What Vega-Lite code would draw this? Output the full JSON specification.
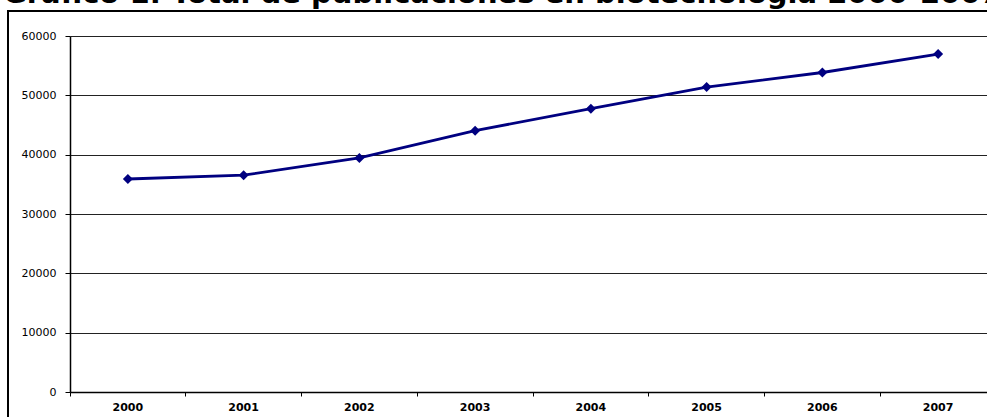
{
  "$schema": "https://vega.github.io/schema/vega-lite/v6.json",
  "autosize": "none",
  "padding": {"left": 8, "top": 11, "right": 0, "bottom": 0},
  "width": 990,
  "height": 420,
  "background": "white",
  "title": {
    "text": "Gráfico 1: Total de publicaciones en biotecnología 2000-2007",
    "anchor": "start",
    "frame": "group",
    "font": "DejaVu Sans",
    "fontWeight": "bold",
    "fontSize": 29,
    "color": "black",
    "offset": 2,
    "dx": -5
  },
  "config": {
    "view": {"stroke": "black", "strokeWidth": 2},
    "axis": {
      "domainColor": "black",
      "tickColor": "black",
      "labelColor": "black",
      "title": null
    }
  },
  "data": {
    "values": [
      {"year": "2000", "total": 35900},
      {"year": "2001", "total": 36550},
      {"year": "2002", "total": 39450},
      {"year": "2003", "total": 44050},
      {"year": "2004", "total": 47750},
      {"year": "2005", "total": 51400},
      {"year": "2006", "total": 53850},
      {"year": "2007", "total": 56950}
    ]
  },
  "mark": {"type": "line", "color": "#000080", "strokeWidth": 2.8, "point": {"shape": "diamond", "size": 100, "filled": true, "color": "#000080", "opacity": 1}},
  "encoding": {
    "x": {
      "field": "year",
      "type": "ordinal",
      "scale": {"type": "band", "range": [62, 988], "paddingInner": 0, "paddingOuter": 0},
      "axis": {
        "orient": "bottom",
        "offset": -39,
        "labelAngle": 0,
        "bandPosition": 0,
        "tickSize": 4,
        "labelPadding": 5,
        "labelFont": "DejaVu Sans",
        "labelFontWeight": "bold",
        "labelFontSize": 11,
        "grid": false,
        "domainWidth": 1.5
      }
    },
    "y": {
      "field": "total",
      "type": "quantitative",
      "scale": {"domain": [0, 60000], "range": [381, 25], "nice": false, "zero": true},
      "axis": {
        "orient": "left",
        "offset": -62,
        "values": [0, 10000, 20000, 30000, 40000, 50000, 60000],
        "format": "d",
        "grid": true,
        "gridColor": "#222222",
        "gridWidth": 1,
        "gridOpacity": 1,
        "tickSize": 5,
        "labelPadding": 9,
        "labelFont": "DejaVu Sans",
        "labelFontSize": 11,
        "domainWidth": 1.5
      }
    }
  }
}
